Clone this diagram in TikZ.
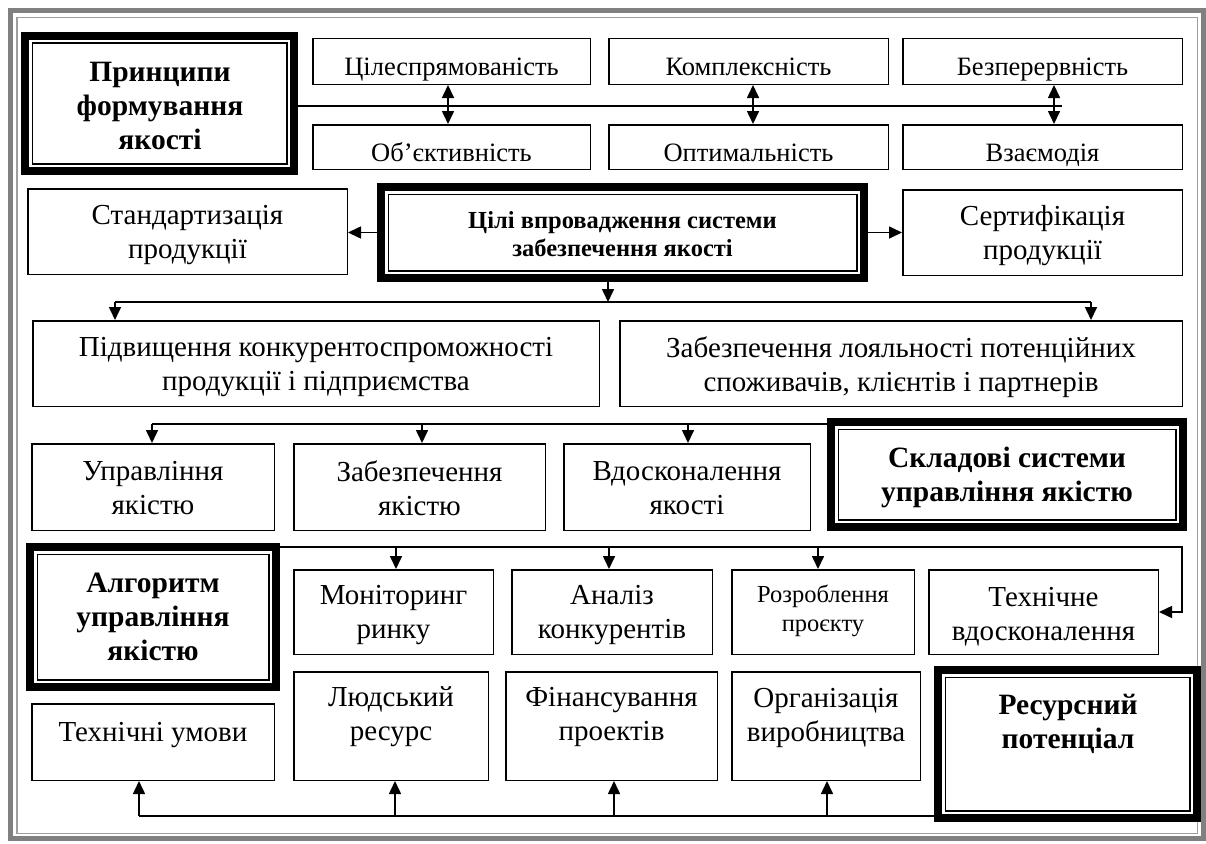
\documentclass[tikz,border=0pt]{standalone}
\usepackage{fontspec}
\setmainfont{Liberation Serif}
\usetikzlibrary{arrows.meta}
\tikzset{
  box/.style={draw, line width=1.5pt, inner sep=0pt},
  thickb/.style={draw, line width=8pt, inner sep=0pt},
  thinb/.style={draw, line width=1.6pt, inner sep=0pt},
  strutted/.style={align=center, inner sep=0pt, execute at begin node=\strut, execute at end node=\strut},
  txt/.style={strutted, font=\fontsize{29}{34}\selectfont},
  rtxt/.style={strutted, font=\fontsize{26.5}{31}\selectfont},
  btxt/.style={strutted, font=\bfseries\fontsize{29.5}{34}\selectfont},
  ctxt/.style={strutted, font=\bfseries\fontsize{24.5}{28}\selectfont},
  stxt/.style={strutted, font=\fontsize{24.5}{29}\selectfont},
  conn/.style={line width=1.6pt},
  arr/.style={conn, -{Triangle[length=13pt,width=12pt]}},
  darr/.style={conn, {Triangle[length=13pt,width=12pt]}-{Triangle[length=13pt,width=12pt]}},
  frameout/.style={draw=gray, line width=5pt},
  framein/.style={draw=gray!75, line width=1.3pt},
}
\newcommand\mkbox[5]{%
  \node[box, minimum width={#4-#2-1.5}, minimum height={#5-#3-1.5}] (#1) at ({(#2+#4)/2},{(#3+#5)/2}) {};}
\newcommand\mkdbox[5]{%
  \node[thickb, minimum width={#4-#2-8}, minimum height={#5-#3-8}] (#1) at ({(#2+#4)/2},{(#3+#5)/2}) {};
  \node[thinb, minimum width={#4-#2-22.6}, minimum height={#5-#3-22.6}] (#1-in) at (#1.center) {};}
\begin{document}
\begin{tikzpicture}[x=1pt, y=-1pt]
\useasboundingbox (0,0) rectangle (1206,843);
\fill[white] (0,0) rectangle (1206,843);
% outer frame
\draw[frameout] (10.5,11) rectangle (1203,838.5);
\draw[framein] (17,17.5) rectangle (1197.5,833.5);

% ---- row 1: principles
\mkdbox{prin}{21}{32}{298}{175}
\node[btxt] (t-prin) at (160,110.5) {Принципи\\формування\\якості};
\mkbox{cel}{312}{38}{591}{85}
\mkbox{komp}{608}{38}{889}{85}
\mkbox{bezp}{902}{38}{1183}{85}
\mkbox{obj}{312}{124}{591}{170}
\mkbox{opt}{608}{124}{889}{170}
\mkbox{vzaem}{902}{124}{1183}{170}
\node[rtxt] (t-cel) at (451.5,69.5) {Цілеспрямованість};
\node[rtxt] (t-komp) at (748.5,69.5) {Комплексність};
\node[rtxt] (t-bezp) at (1042.5,69.5) {Безперервність};
\node[rtxt] (t-obj) at (451.5,155) {Об’єктивність};
\node[rtxt] (t-opt) at (748.5,155) {Оптимальність};
\node[rtxt] (t-vzaem) at (1042.5,155) {Взаємодія};
\coordinate (l1end) at (1062,106);
\coordinate (a1) at (448,0);
\coordinate (a2) at (753,0);
\coordinate (a3) at (1054,0);
\draw[conn] (prin.east |- l1end) -- (l1end);
\draw[darr] (cel.south -| a1) -- (obj.north -| a1);
\draw[darr] (komp.south -| a2) -- (opt.north -| a2);
\draw[darr] (bezp.south -| a3) -- (vzaem.north -| a3);

% ---- row 2: goals
\mkbox{stand}{27}{188}{348}{275}
\mkdbox{cili}{377}{183}{868}{282}
\mkbox{sert}{902}{189}{1183}{276}
\node[txt] (t-stand) at (187.5,237) {Стандартизація\\продукції};
\node[ctxt] (t-cili) at (622.5,238) {Цілі впровадження системи\\забезпечення якості};
\node[txt] (t-sert) at (1042.5,238) {Сертифікація\\продукції};
\draw[arr] (cili.west) -- (cili.west -| stand.east);
\draw[arr] (cili.east) -- (cili.east -| sert.west);

% ---- row 3
\mkbox{pidv}{32}{320}{600}{407}
\mkbox{zabl}{619}{320}{1183}{407}
\node[txt] (t-pidv) at (316,369) {Підвищення конкурентоспроможності\\продукції і підприємства};
\node[txt] (t-zabl) at (901,369) {Забезпечення лояльності потенційних\\споживачів, клієнтів і партнерів};
\coordinate (j1) at (608,302);
\coordinate (h1l) at (115,302);
\coordinate (h1r) at (1091,302);
\draw[arr] (cili.south -| j1) -- (j1);
\draw[conn] (h1l) -- (h1r);
\draw[arr] (h1l) -- (h1l |- pidv.north);
\draw[arr] (h1r) -- (h1r |- zabl.north);

% ---- row 4: components
\mkbox{upr}{31}{443}{275}{531}
\mkbox{zabya}{293}{443}{546}{531}
\mkbox{vdos}{563}{443}{811}{531}
\mkdbox{sklad}{827}{418}{1187}{531}
\node[txt] (t-upr) at (153,493) {Управління\\якістю};
\node[txt] (t-zabya) at (419.5,493) {Забезпечення\\якістю};
\node[txt] (t-vdos) at (687,493) {Вдосконалення\\якості};
\node[btxt] (t-sklad) at (1007,479) {Складові системи\\управління якістю};
\coordinate (h2l) at (152,424);
\coordinate (h2b) at (422,424);
\coordinate (h2c) at (688,424);
\draw[conn] (h2l) -- (h2l -| sklad.west);
\draw[arr] (h2l) -- (h2l |- upr.north);
\draw[arr] (h2b) -- (h2b |- zabya.north);
\draw[arr] (h2c) -- (h2c |- vdos.north);

% ---- row 5: algorithm
\mkdbox{alg}{26}{543}{280}{691}
\mkbox{mon}{293}{569}{494}{655}
\mkbox{anal}{511}{569}{713}{655}
\mkbox{rozr}{731}{569}{915}{655}
\mkbox{tech}{928}{569}{1159}{655}
\node[btxt] (t-alg) at (153,622) {Алгоритм\\управління\\якістю};
\node[txt] (t-mon) at (393.5,617) {Моніторинг\\ринку};
\node[txt] (t-anal) at (612,617) {Аналіз\\конкурентів};
\node[stxt] (t-rozr) at (823,613) {Розроблення\\проєкту};
\node[txt] (t-tech) at (1043.5,619) {Технічне\\вдосконалення};
\coordinate (h3) at (1182,547);
\coordinate (b1) at (396,547);
\coordinate (b2) at (609,547);
\coordinate (b3) at (818,547);
\draw[arr] (alg.east |- h3) -- (h3) -- (h3 |- tech.east) -- (tech.east);
\draw[arr] (b1) -- (b1 |- mon.north);
\draw[arr] (b2) -- (b2 |- anal.north);
\draw[arr] (b3) -- (b3 |- rozr.north);

% ---- row 6: resources
\mkbox{tu}{31}{703}{275}{781}
\mkbox{lyud}{293}{671}{489}{781}
\mkbox{fin}{505}{671}{718}{781}
\mkbox{org}{731}{671}{921}{781}
\mkdbox{res}{934}{666}{1201}{822}
\node[txt] (t-tu) at (153,735) {Технічні умови};
\node[txt] (t-lyud) at (391,719) {Людський\\ресурс};
\node[txt] (t-fin) at (611.5,719) {Фінансування\\проектів};
\node[txt] (t-org) at (826,720) {Організація\\виробництва};
\node[btxt] (t-res) at (1068,726) {Ресурсний\\потенціал};
\coordinate (h4) at (139,816);
\coordinate (c1) at (395,816);
\coordinate (c2) at (614,816);
\coordinate (c3) at (827,816);
\draw[conn] (h4) -- (h4 -| res.west);
\draw[arr] (h4) -- (h4 |- tu.south);
\draw[arr] (c1) -- (c1 |- lyud.south);
\draw[arr] (c2) -- (c2 |- fin.south);
\draw[arr] (c3) -- (c3 |- org.south);
\end{tikzpicture}
\end{document}
